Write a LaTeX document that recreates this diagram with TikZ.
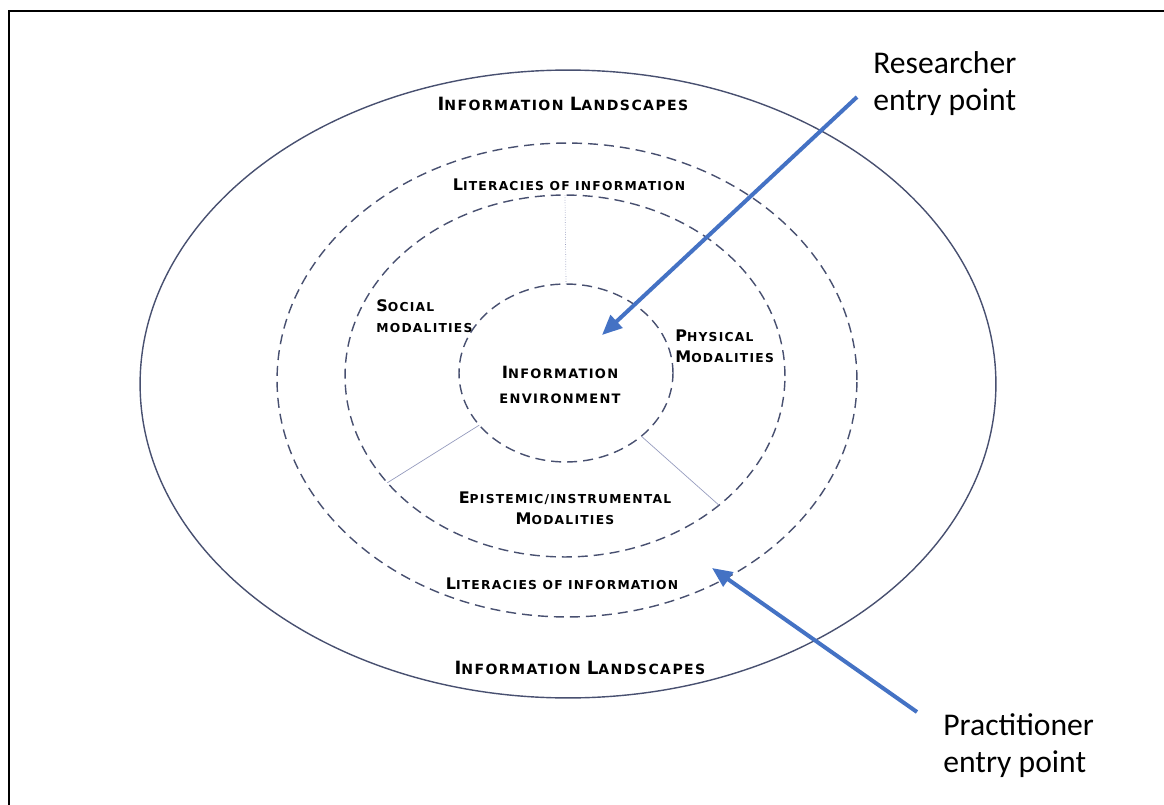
\documentclass[tikz,border=0pt]{standalone}
\usepackage{fontspec}
\usepackage{graphicx}
\usetikzlibrary{shapes.geometric,arrows.meta}

\newfontfamily\platefont{DejaVu Sans}[LetterSpace=10]
\newfontfamily\calloutfont{Carlito}
\newcommand\bigini[1]{\scalebox{1.3}{#1}}

\definecolor{ringline}{RGB}{72,80,112}
\definecolor{entryblue}{RGB}{68,114,196}
\definecolor{spokeline}{RGB}{150,156,190}

\tikzset{
  ring/.style={ellipse, draw=ringline, line width=0.8pt, dash pattern=on 0.2cm off 0.12cm, inner sep=0pt, outer sep=0pt},
  plate/.style={font=\platefont\bfseries\fontsize{7}{12}\selectfont, align=center, inner sep=0pt},
  bigplate/.style={plate, font=\platefont\bfseries\fontsize{8}{12}\selectfont},
  callout/.style={font=\calloutfont\fontsize{18}{21}\selectfont, align=left, anchor=north west, inner sep=0pt},
  entry/.style={draw=entryblue, line width=0.08cm, -{Triangle[length=0.4cm,width=0.34cm]}},
  spoke/.style={draw=spokeline, line width=0.4pt}
}

\begin{document}
\begin{tikzpicture}[x=0.02cm, y=-0.02cm]
  \useasboundingbox (0,0) rectangle (1164,805);
  \draw[line width=1.2pt] (9,805) -- (9,11) -- (1164,11);

  % rings
  \begin{scope}
    \node[ring, solid, minimum width=17.12cm, minimum height=12.56cm] (land) at (568,384) {};
    \node[ring, minimum width=11.6cm, minimum height=9.48cm] (lit) at (567,380) {};
    \node[ring, minimum width=8.8cm, minimum height=7.24cm] (modal) at (565,376) {};
    \node[ring, minimum width=4.28cm, minimum height=3.56cm] (env) at (566,373) {};
  \end{scope}

  \draw[spoke, densely dotted] (modal.north) -- (env.north);
  \draw[spoke] (modal.211) -- (env.211);
  \draw[spoke] (modal.-40) -- (env.-40);

  % labels
  \begin{scope}
    \node[bigplate] (landtop) at (563,104) {\bigini{I}NFORMATION \bigini{L}ANDSCAPES};
    \node[plate] (littop) at (569,185) {\bigini{L}ITERACIES OF INFORMATION};
    \node[plate, align=left, anchor=north west] (social) at (376,299) {\bigini{S}OCIAL\\MODALITIES};
    \node[plate, align=left, anchor=north west] (physical) at (675,329) {\bigini{P}HYSICAL\\\bigini{M}ODALITIES};
    \node[plate, font=\platefont\bfseries\fontsize{7.4}{14}\selectfont] (envlabel) at (560,385) {\bigini{I}NFORMATION\\ENVIRONMENT};
    \node[plate] (epist) at (565,508) {\bigini{E}PISTEMIC/INSTRUMENTAL\\\bigini{M}ODALITIES};
    \node[plate] (litbot) at (562,584) {\bigini{L}ITERACIES OF INFORMATION};
    \node[bigplate] (landbot) at (580,668) {\bigini{I}NFORMATION \bigini{L}ANDSCAPES};
  \end{scope}

  % entry points
  \node[callout] (researcher) at (873,51) {Researcher\\entry point};
  \node[callout] (practitioner) at (943,713) {Practitioner\\entry point};
  \coordinate (rtail) at (857,97);
  \coordinate (rtip) at (602,335);
  \coordinate (ptail) at (917,712);
  \coordinate (ptip) at (712,568);
  \draw[entry] (rtail) -- (rtip);
  \draw[entry] (ptail) -- (ptip);

\end{tikzpicture}
\end{document}
